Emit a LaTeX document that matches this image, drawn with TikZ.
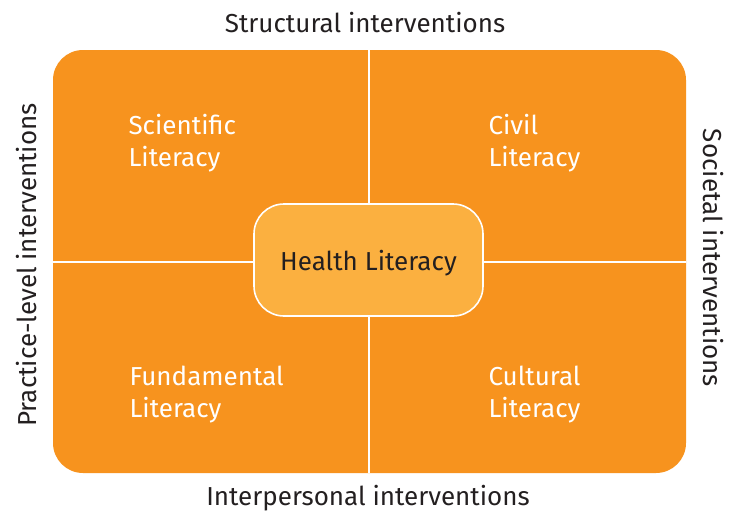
\documentclass[tikz,border=0pt]{standalone}
\usepackage{fontspec}
\setmainfont{Fira Sans}
\definecolor{hlorange}{HTML}{F7931E}
\definecolor{hllight}{HTML}{FBB040}
\definecolor{hltext}{HTML}{231F20}

\def \cornerradius {30pt}
\def \fontsz {\fontsize{26pt}{32pt}\selectfont}

\tikzset{
  quadtext/.style={text=white, align=left, anchor=west, font=\fontsz},
  sidetext/.style={text=hltext, font=\fontsz},
  divider/.style={draw=white, line width=1.6pt}
}

\begin{document}
\begin{tikzpicture}[x=1pt, y=-1pt]
\useasboundingbox (0,0) rectangle (741,514);
% outer box
\node[fill=hlorange, rounded corners=\cornerradius, minimum width=633pt, minimum height=423pt, inner sep=0pt] (frame) at (369.5,261.5) {};
\coordinate (top) at (369,50);
\coordinate (bottom) at (369,473);
\coordinate (left) at (53,262);
\coordinate (right) at (686,262);
\draw[divider] (top) -- (bottom);
\draw[divider] (left) -- (right);
% centre
\node[fill=hllight, draw=white, line width=1.6pt, rounded corners=\cornerradius, minimum width=229pt, minimum height=112pt, inner sep=0pt, text=hltext, font=\fontsz] (health) at (368.5,260) {};
\node[text=hltext, font=\fontsz] (healthlabel) at (368.5,263) {Health Literacy};
% quadrants
\node[quadtext] (scientific) at (125,143) {Scientific\\Literacy};
\node[quadtext] (civil) at (485,143) {Civil\\Literacy};
\node[quadtext] (fundamental) at (126,395) {Fundamental\\Literacy};
\node[quadtext] (cultural) at (485,395) {Cultural\\Literacy};
% side labels
\node[sidetext] (structural) at (365,23) {Structural interventions};
\node[sidetext] (interpersonal) at (368,498) {Interpersonal interventions};
\node[sidetext, rotate=90] (practice) at (27,265) {Practice-level interventions};
\node[sidetext, rotate=-90] (societal) at (713,258) {Societal interventions};
\end{tikzpicture}
\end{document}
